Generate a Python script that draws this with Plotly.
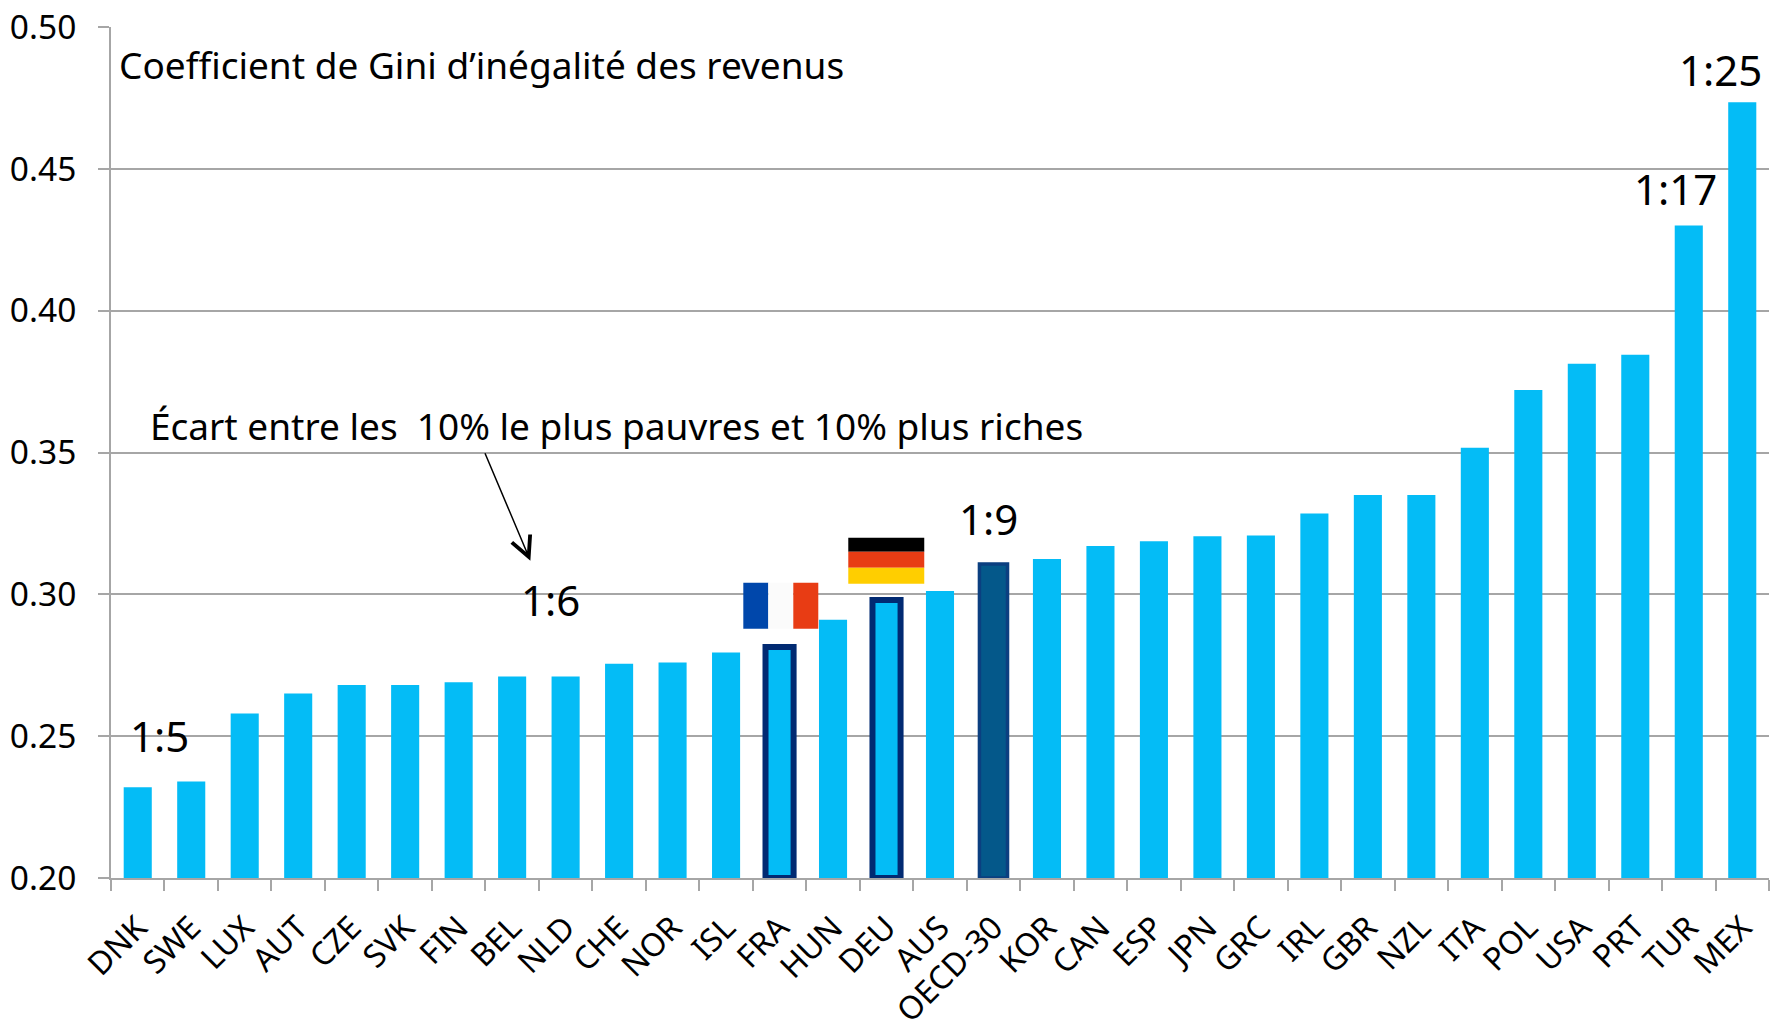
import plotly.graph_objects as go

countries = ["DNK","SWE","LUX","AUT","CZE","SVK","FIN","BEL","NLD","CHE","NOR","ISL","FRA","HUN","DEU","AUS",
             "OECD-30","KOR","CAN","ESP","JPN","GRC","IRL","GBR","NZL","ITA","POL","USA","PRT","TUR","MEX"]
gini = [0.232,0.234,0.258,0.265,0.268,0.268,0.269,0.271,0.271,0.2755,0.276,0.2795,0.2814,0.291,0.298,0.3012,
        0.3107,0.3125,0.317,0.3187,0.3205,0.3207,0.3285,0.335,0.335,0.3517,0.372,0.3813,0.3845,0.43,0.4735]
y_ticks = [0.20,0.25,0.30,0.35,0.40,0.45,0.50]
ratio_labels = [("1:5",159,736),("1:6",550,600),("1:9",988,519),("1:17",1675,189),("1:25",1720,70)]
title_text = "Coefficient de Gini d’inégalité des revenus"
gap_text = "Écart entre les  10% le plus pauvres et 10% plus riches"

W, H = 1777, 1031
L, R, T, B = 110.5, 1769, 27, 878.5
FONT = "Noto Sans"
GRID = "#a6a6a6"
px = lambda x: (x - L) / (R - L)
py = lambda y: (B - y) / (B - T)

fills, line_colors, line_widths = [], [], []
for c in countries:
    fills.append("#04588a" if c == "OECD-30" else "#04bcf6")
    line_colors.append({"FRA": "#012a72", "DEU": "#012a72", "OECD-30": "#0b3f80"}.get(c, "#04bcf6"))
    line_widths.append({"FRA": 6, "DEU": 6, "OECD-30": 3.5}.get(c, 0))

fig = go.Figure(go.Bar(
    x=countries, y=[v - 0.2 for v in gini], base=0.2, width=0.525,
    marker=dict(color=fills, line=dict(color=line_colors, width=line_widths)),
    cliponaxis=False, hoverinfo="x+y",
))

def flag(x0, x1, y0, y1, color):
    return dict(type="rect", xref="paper", yref="paper", x0=px(x0), x1=px(x1), y0=py(y0), y1=py(y1),
                fillcolor=color, line_width=0, layer="above")

shapes = [
    flag(743, 768, 583, 629, "#0047ab"), flag(768, 793, 583, 629, "#fbfbfb"), flag(793, 818, 583, 629, "#e83c14"),
    flag(848, 924, 538, 552, "#000000"), flag(848, 924, 552, 568, "#e83c14"), flag(848, 924, 568, 584, "#ffce00"),
]

def text(t, x, y, size, anchor="center"):
    return dict(text=t, x=px(x), y=py(y), xref="paper", yref="paper", showarrow=False, xanchor=anchor,
                yanchor="middle", font=dict(family=FONT, size=size, color="#000000"))

annotations = [text(t, x, y, 42) for t, x, y in ratio_labels]
annotations += [text(title_text, 117, 65, 37, "left"), text(gap_text, 148, 426, 37, "left")]
annotations.append(dict(x=px(530), y=py(561), ax=484 - 530, ay=452 - 561, xref="paper", yref="paper",
                        axref="pixel", ayref="pixel", text="", showarrow=True, arrowhead=5,
                        arrowsize=2.6, arrowwidth=1.5, arrowcolor="#000000"))

fig.update_layout(
    width=W, height=H, margin=dict(l=L, r=W - R, t=T, b=H - B, autoexpand=False),
    plot_bgcolor="white", paper_bgcolor="white", showlegend=False, bargap=0.475,
    font=dict(family=FONT, size=32, color="#000000"), shapes=shapes, annotations=annotations,
)
fig.update_xaxes(type="category", tickson="boundaries", ticks="outside", ticklen=11, tickwidth=2, tickcolor=GRID,
                 showline=True, linecolor=GRID, linewidth=2, showgrid=False, tickangle=-45,
                 tickfont=dict(family=FONT, size=32), ticklabelstandoff=16)
fig.update_yaxes(range=[0.2, 0.5], tickvals=y_ticks, ticktext=[f"{v:.2f}" for v in y_ticks], ticks="outside",
                 ticklen=11, tickwidth=2, tickcolor=GRID, showline=True, linecolor=GRID, linewidth=2,
                 showgrid=True, gridcolor=GRID, gridwidth=2, zeroline=False,
                 tickfont=dict(family=FONT, size=33.5), ticklabelstandoff=15)

fig.write_html("out.html", config={"displayModeBar": False}, post_script="document.body.style.margin='0';")
